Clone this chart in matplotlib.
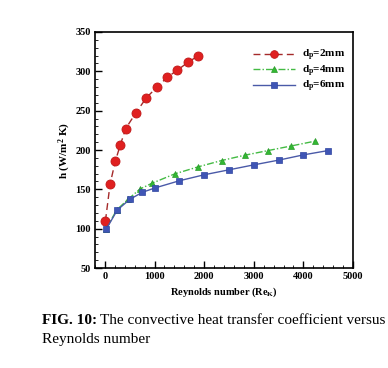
import matplotlib
matplotlib.use("Agg")
import matplotlib.pyplot as plt
from matplotlib.ticker import MultipleLocator

re_2mm = [10, 104, 209, 313, 418, 627, 836, 1044, 1253, 1462, 1671, 1880]
h_2mm = [109.7, 156.6, 185.8, 206.9, 227.2, 247.5, 266.5, 279.6, 292.3, 301.6, 311.3, 319.8]
re_4mm = [23, 235, 470, 705, 940, 1410, 1880, 2350, 2820, 3290, 3760, 4230]
h_4mm = [99.2, 123.7, 137.5, 150.3, 157.5, 169.7, 178.6, 186.6, 193.4, 199.3, 205.2, 211.2]
re_6mm = [25, 250, 500, 750, 1000, 1500, 2000, 2500, 3000, 3500, 4000, 4500]
h_6mm = [99.2, 123.7, 137.2, 146.1, 151.6, 160.9, 168.5, 174.8, 181.1, 187.1, 193.8, 199.3]
labels = [r"d$_p$=2mm", r"d$_p$=4mm", r"d$_p$=6mm"]

plt.rcParams['font.family'] = ['Liberation Serif', 'DejaVu Serif']
plt.rcParams['mathtext.fontset'] = 'custom'
plt.rcParams['mathtext.rm'] = 'Liberation Serif:bold'
plt.rcParams['mathtext.it'] = 'Liberation Serif:bold'
plt.rcParams['mathtext.bf'] = 'Liberation Serif:bold'

fig = plt.figure(figsize=(3.88, 3.68), dpi=100)
ax = fig.add_axes([95/388, 1-268/368, (353-95)/388, (268-32)/368])

ax.plot(re_2mm, h_2mm, linestyle=(0, (5, 3)), color='#a52a2a', lw=1.0,
        marker='o', markersize=6.5, markerfacecolor='#e02020', markeredgecolor='#c01818',
        markeredgewidth=0.6, label=labels[0], zorder=3)
ax.plot(re_4mm, h_4mm, linestyle=(0, (5, 1.5, 1, 1.5)), color='#44bb44', lw=1.0,
        marker='^', markersize=5, markerfacecolor='#33b833', markeredgecolor='#2a9a2a',
        markeredgewidth=0.5, label=labels[1], zorder=2)
ax.plot(re_6mm, h_6mm, linestyle='-', color='#4a5aa8', lw=1.0,
        marker='s', markersize=4.5, markerfacecolor='#3f55b5', markeredgecolor='#2f45a0',
        markeredgewidth=0.5, label=labels[2], zorder=4)

ax.set_xlim(-200, 5000)
ax.set_ylim(50, 350)
ax.xaxis.set_major_locator(MultipleLocator(1000))
ax.xaxis.set_minor_locator(MultipleLocator(200))
ax.yaxis.set_major_locator(MultipleLocator(50))
ax.yaxis.set_minor_locator(MultipleLocator(10))
ax.tick_params(which='both', direction='in', top=False, right=False)
ax.tick_params(which='major', length=5, width=1.0, labelsize=7.5, pad=3)
ax.tick_params(which='minor', length=2.5, width=0.6)
for lbl in ax.get_xticklabels() + ax.get_yticklabels():
    lbl.set_fontweight('bold')
for s in ax.spines.values():
    s.set_linewidth(1.2)

ax.set_xlabel(r"Reynolds number (Re$_K$)", fontsize=7.5, fontweight='bold', labelpad=3)
ax.set_ylabel(r"h (W/m$^2$ K)", fontsize=8, fontweight='bold', labelpad=2)

leg = ax.legend(loc='upper left', bbox_to_anchor=((253-95)/258, 1 - (48-32)/236), frameon=False,
                fontsize=8, handlelength=3.8, handletextpad=0.6, labelspacing=0.05,
                borderaxespad=0.0, borderpad=0.0, markerscale=0.85)
for t in leg.get_texts():
    t.set_fontweight('bold')

t1 = fig.text(42/388, 1-321/368, "FIG. 10:", fontsize=11, fontweight='bold', va='center', ha='left')
fig.canvas.draw()
bb = t1.get_window_extent(renderer=fig.canvas.get_renderer())
x2 = (bb.x1 + 3) / fig.bbox.width
fig.text(x2, 1-321/368, "The convective heat transfer coefficient versus", fontsize=11,
         va='center', ha='left')
fig.text(42/388, 1-340/368, "Reynolds number", fontsize=11, va='center', ha='left')

fig.savefig("out.png", dpi=100)
